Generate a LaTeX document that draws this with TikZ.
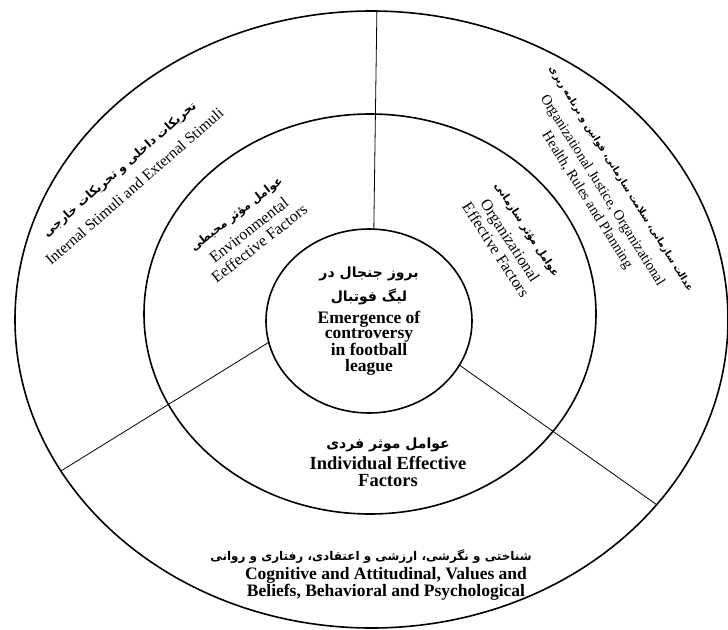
\documentclass[tikz,border=0pt]{standalone}
\usepackage{fontspec}
\setmainfont{Liberation Serif}
\newfontfamily\farsi[Script=Arabic]{DejaVu Sans}
\usetikzlibrary{shapes.geometric}
\TeXXeTstate=1
\newcommand\fafont[1]{\fontsize{#1}{#1}\selectfont\farsi\bfseries}

\begin{document}
\begin{tikzpicture}[x=1pt, y=-1pt,
    ring/.style={draw, ellipse, line width=1.6pt, inner sep=0pt, outer sep=0pt},
    spoke/.style={line width=0.8pt},
    ringtext/.style={align=center, inner sep=0pt}]
    \useasboundingbox (0,0) rectangle (728,629);

    % three rings
    \node[ring, minimum width=713pt, minimum height=617pt] (outer) at (371.5,319.5) {};
    \node[ring, minimum width=452pt, minimum height=400pt] (middle) at (370,314) {};
    \node[ring, align=center, minimum width=206pt, minimum height=184pt,
          font=\fontsize{17.5}{15.5}\selectfont\bfseries] (core) at (369,321)
        {{\fafont{14}\beginR بروز جنجال در\endR}\\[7pt]
         {\fafont{14}\beginR لیگ فوتبال\endR}\\[5pt]
         Emergence of\\ controversy\\ in football\\ league};

    % spokes between the sectors
    \draw[spoke] (core.87) -- (outer.89.4);
    \draw[spoke] (core.192.7) -- (outer.206.7);
    \draw[spoke] (core.-26.3) -- (outer.-33.2);

    % middle ring labels
    \node[ringtext, font=\fontsize{18.5}{17}\selectfont\bfseries] (indiv) at (388,462)
        {{\fafont{14}\beginR عوامل موثر فردی\endR}\\[4pt] Individual Effective\\ Factors};
    \node[ringtext, rotate=38, font=\fontsize{16}{17}\selectfont] (envir) at (248,229)
        {{\fafont{11.5}\beginR عوامل مؤثر محیطی\endR}\\[5pt] Environmental\\ Eeffective Factors};
    \node[ringtext, rotate=-57, font=\fontsize{16}{17}\selectfont] (organ) at (511,240)
        {{\fafont{10.5}\beginR عوامل مؤثر سازمانی\endR}\\[5pt] Organizational\\ Effective Factors};

    % outer ring labels
    \node[ringtext, rotate=41, font=\fontsize{15.5}{18}\selectfont] (stimuli) at (127,178)
        {{\fafont{12}\beginR تحریکات داخلی و تحریکات خارجی\endR}\\[6pt]
         Internal Stimuli and External Stimuli};
    \node[ringtext, rotate=-58, font=\fontsize{14.5}{18}\selectfont] (justice) at (603,190)
        {{\fafont{9.5}\beginR عدالت سازمانی، سلامت سازمانی، قوانین و برنامه ریزی\endR}\\[5pt]
         Organizational Justice, Organizational\\ Health, Rules and Planning};
    \node[ringtext, font=\fontsize{17.5}{15}\selectfont\bfseries] (cognit) at (386,575)
        {{\fafont{12}\beginR شناختی و نگرشی، ارزشی و اعتقادی، رفتاری و روانی\endR}\hspace*{30pt}\\[3pt]
         Cognitive and Attitudinal, Values and\\ Beliefs, Behavioral and Psychological};
\end{tikzpicture}
\end{document}
